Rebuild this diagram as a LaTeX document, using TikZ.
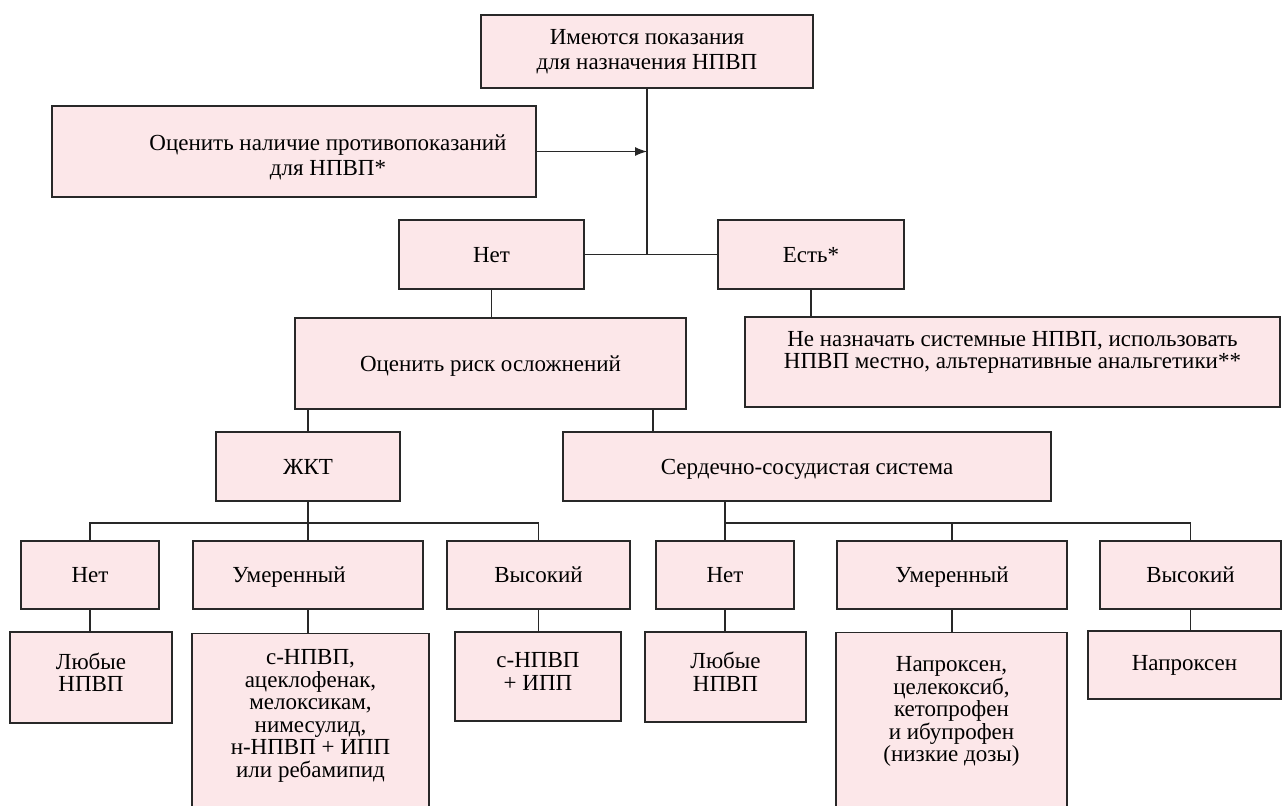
\documentclass[tikz,border=0pt]{standalone}
\usepackage{fontspec}
\setmainfont{Liberation Serif}
\usetikzlibrary{arrows.meta}
\definecolor{boxpink}{RGB}{252,231,233}
\definecolor{edgegray}{RGB}{40,40,40}
\begin{document}
\begin{tikzpicture}[x=1pt, y=-1pt,
		box/.style={draw=edgegray, fill=boxpink, line width=1.2pt, align=center, inner sep=0pt,
			font=\fontsize{23}{22.5}\selectfont},
		oneline/.style={text height=15.5pt, text depth=0pt},
		link/.style={draw=edgegray, line width=1.2pt}]
		\useasboundingbox (0,0) rectangle (1283,806);

		% top part
		\node[box, minimum width=332, minimum height=73, font=\fontsize{23}{25}\selectfont] (show) at (647,51.5) {Имеются показания\\ для назначения НПВП};
		\node[box, minimum width=484, minimum height=91, font=\fontsize{23}{25}\selectfont, text height=52pt] (contra) at (294,151.5) {\hspace*{68pt}Оценить наличие противопоказаний\\ \hspace*{68pt}для НПВП*};
		\node[box, oneline, minimum width=185, minimum height=69] (no) at (491.5,254.5) {Нет};
		\node[box, oneline, minimum width=186, minimum height=69] (yes) at (811,254.5) {Есть*};
		\draw[link] (show) -- (show |- no.east);
		\draw[link] (no) -- (yes);
		\draw[link, -{Latex[length=12pt, width=9pt]}] (contra.east) -- (contra.east -| show.south);

		\node[box, oneline, minimum width=391, minimum height=91] (risk) at (490.5,363.5) {Оценить риск осложнений};
		\node[box, minimum width=535, minimum height=90, text depth=24pt] (avoid) at (1012.5,362) {Не назначать системные НПВП, использовать\\ НПВП местно, альтернативные анальгетики**};
		\draw[link] (no.south) -- (no.south |- risk.north);
		\draw[link] (yes.south) -- (yes.south |- avoid.north);

		% risk groups
		\node[box, oneline, minimum width=184, minimum height=69] (gi) at (308,466.5) {ЖКТ};
		\node[box, oneline, minimum width=488, minimum height=69] (cv) at (807,466.5) {Сердечно-сосудистая система};
		\coordinate (riskcv) at (653,409);
		\draw[link] (gi.north |- risk.south) -- (gi.north);
		\draw[link] (riskcv) -- (riskcv |- cv.north);

		% levels
		\node[box, oneline, minimum width=138, minimum height=68] (gino) at (90,575) {Нет};
		\node[box, oneline, minimum width=230, minimum height=68] (gimid) at (308,575) {Умеренный\hspace*{38pt}};
		\node[box, oneline, minimum width=183, minimum height=68] (gihigh) at (538.5,575) {Высокий};
		\node[box, oneline, minimum width=138, minimum height=68] (cvno) at (725,575) {Нет};
		\node[box, oneline, minimum width=230, minimum height=68] (cvmid) at (952,575) {Умеренный};
		\node[box, oneline, minimum width=181, minimum height=68] (cvhigh) at (1190.5,575) {Высокий};
		\coordinate (gibus) at (308,523);
		\coordinate (cvbus) at (725,523);
		\draw[link] (gi) -- (gimid);
		\draw[link] (gino.north) |- (gibus) -| (gihigh.north);
		\draw[link] (cvno.north |- cv.south) -- (cvno.north);
		\draw[link] (cvbus) -| (cvhigh.north);
		\draw[link] (cvmid.north) -- (cvmid.north |- cvbus);

		% drugs
		\node[box, minimum width=162, minimum height=91, text depth=10pt] (ginod) at (91,677.5) {Любые\\ НПВП};
		\node[box, minimum width=237, anchor=north, inner ysep=16pt, text depth=200pt] (gimidd) at (310.5,633) {с-НПВП,\\ ацеклофенак,\\ мелоксикам,\\ нимесулид,\\ н-НПВП + ИПП\\ или ребамипид};
		\node[box, minimum width=166, minimum height=89, text depth=10pt] (gihighd) at (538,676.5) {с-НПВП\\ + ИПП};
		\node[box, minimum width=161, minimum height=90, text depth=10pt] (cvnod) at (725.5,677) {Любые\\ НПВП};
		\node[box, minimum width=231, anchor=north, inner ysep=24pt, text depth=200pt] (cvmidd) at (951.5,632) {Напроксен,\\ целекоксиб,\\ кетопрофен\\ и ибупрофен\\ (низкие дозы)};
		\node[box, minimum width=193, minimum height=68] (cvhighd) at (1184.5,665) {Напроксен};
		\foreach \a/\b in {gino/ginod, gimid/gimidd, gihigh/gihighd, cvno/cvnod, cvmid/cvmidd, cvhigh/cvhighd}
			\draw[link] (\a.south) -- (\a.south |- \b.north);
	\end{tikzpicture}
\end{document}
